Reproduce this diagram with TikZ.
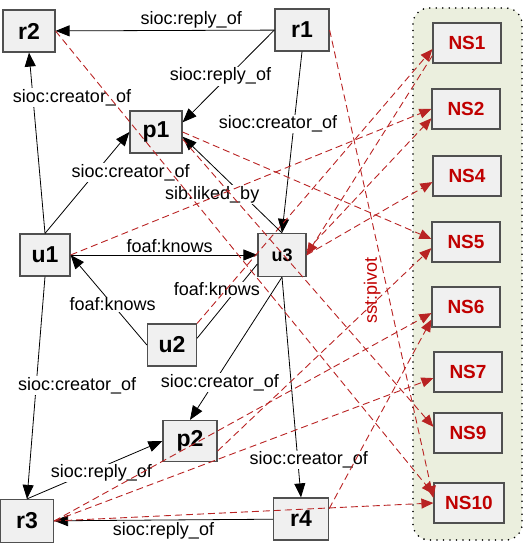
\documentclass[tikz,border=0pt]{standalone}
\usepackage{fontspec}
\setmainfont{Liberation Sans}
\usepackage{tikz}
\usetikzlibrary{arrows.meta}
\definecolor{BoxFill}{RGB}{240,240,240}
\definecolor{BoxLine}{RGB}{80,80,80}
\definecolor{NSRed}{RGB}{192,0,0}
\definecolor{PivotRed}{RGB}{185,35,35}
\definecolor{PanelGreen}{RGB}{235,239,222}
\tikzset{
  rbox/.style={draw=BoxLine,fill=BoxFill,line width=1.2pt,minimum width=52pt,minimum height=42pt,inner sep=0pt,font=\fontsize{23}{25}\selectfont\bfseries},
  nsbox/.style={draw=BoxLine,fill=BoxFill,line width=1.2pt,minimum width=68pt,minimum height=40pt,inner sep=0pt,text=NSRed,font=\fontsize{19}{21}\selectfont\bfseries},
  rel/.style={-{Triangle[length=14pt,width=11pt]},line width=0.8pt},
  piv/.style={-{Triangle[length=12pt,width=10pt]},PivotRed,line width=0.9pt,dash pattern=on 7pt off 4pt},
  lbl/.style={fill=white,inner sep=1pt,font=\fontsize{18}{20}\selectfont},
}

\begin{document}
\begin{tikzpicture}[x=1pt,y=-1pt]
    \useasboundingbox (0,0) rectangle (526,545);
    \draw[fill=PanelGreen,line width=1.8pt,dash pattern=on 0pt off 6.5pt,line cap=round,rounded corners=16pt] (413,8) rectangle (522,540);

    \node[rbox] (r2) at (29,31) {r2};
    \node[rbox,minimum width=54pt] (r1) at (302,30) {r1};
    \node[rbox] (p1) at (156,132) {p1};
    \node[rbox,minimum width=50pt] (u1) at (45,255) {u1};
    \node[rbox,minimum width=48pt,minimum height=43pt,font=\fontsize{18}{20}\selectfont\bfseries] (u3) at (282,255) {u3};
    \node[rbox,minimum width=49pt] (u2) at (172,345) {u2};
    \node[rbox,minimum width=54pt,minimum height=41pt] (p2) at (190,441) {p2};
    \node[rbox,minimum width=53pt,minimum height=43pt] (r3) at (27,521) {r3};
    \node[rbox,minimum width=55pt] (r4) at (301,519) {r4};

    \node[nsbox] (NS1) at (467,43) {NS1};
    \node[nsbox] (NS2) at (466,109) {NS2};
    \node[nsbox] (NS4) at (467,176) {NS4};
    \node[nsbox] (NS5) at (466,242) {NS5};
    \node[nsbox] (NS6) at (466,307) {NS6};
    \node[nsbox] (NS7) at (468,372) {NS7};
    \node[nsbox] (NS9) at (468,433) {NS9};
    \node[nsbox,minimum width=70pt] (NS10) at (469,503) {NS10};

    \draw[rel] (r1) -- (r2) node[lbl,pos=0.38,above=1pt] {sioc:reply\_of};
    \draw[rel] (r1.west) -- (p1.20) node[lbl,pos=0.5,xshift=-8pt] {sioc:reply\_of};
    \draw[rel] (r1.south) -- (u3.north) node[lbl,pos=0.4,xshift=-16pt] {sioc:creator\_of};
    \draw[rel] (u1.north) -- (r2.south) node[lbl,pos=0.75,xshift=39pt] {sioc:creator\_of};
    \draw[rel] (u1.north) -- (p1.west) node[lbl,pos=0.6,xshift=35pt] {sioc:creator\_of};
    \draw[rel] (u1) -- (u3) node[lbl,pos=0.53,above=1pt] {foaf:knows};
    \draw[rel] (u2.west) -- (u1.east) node[lbl,pos=0.45] {foaf:knows};
    \draw[line width=0.8pt] (u2.15) -- (u3.200) node[lbl,pos=0.66,xshift=-20pt] {foaf:knows};
    \draw[rel] (u3.north) -- (p1.-10) node[lbl,pos=0.4,xshift=-30pt] {sib:liked\_by};
    \draw[rel] (u3.south) -- (p2.north) node[lbl,pos=0.74,xshift=6pt] {sioc:creator\_of};
    \draw[rel] (u3.south) -- (r4.north) node[lbl,pos=0.83,xshift=11pt] {sioc:creator\_of};
    \draw[rel] (u1.south) -- (r3.north) node[lbl,pos=0.49,xshift=41pt] {sioc:creator\_of};
    \draw[rel] (r3.north) -- (p2.west) node[lbl,pos=0.55,yshift=-6pt] {sioc:reply\_of};
    \draw[rel] (r4) -- (r3) node[lbl,pos=0.5,below=1pt] {sioc:reply\_of};

    \draw[piv] (r1.east) -- (NS10.172) node[pos=0.556,xshift=-15pt,rotate=90,text=NSRed,font=\fontsize{18}{20}\selectfont] {sst:pivot};
    \draw[piv] (r2.east) -- (NS10.166);
    \draw[piv] (p1.east) -- (NS5.175);
    \draw[piv] (p1.-15) -- (NS9.170);
    \draw[piv] (u1.east) -- (NS2.west);
    \draw[piv] (u2.north east) -- (NS1.190);
    \draw[piv] (NS1.200) -- (u3.east);
    \draw[piv] (u3.10) -- (NS2.195);
    \draw[piv] (u3.east) -- (NS4.190);
    \draw[piv] (p2.-20) -- (NS5.190);
    \draw[piv] (r3.east) -- (NS6.190);
    \draw[piv] (r3.east) -- (NS7.190);
    \draw[piv] (r3.east) -- (NS10.west);
    \draw[piv] (r4.20) -- (NS6.200);
  \end{tikzpicture}
\end{document}
